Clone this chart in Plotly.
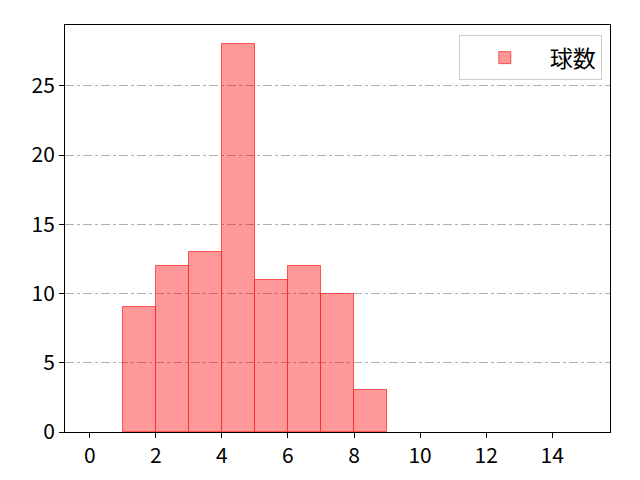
import plotly.graph_objects as go

# histogram data (bin left edges, counts)
bin_left = [1, 2, 3, 4, 5, 6, 7, 8]
counts = [9, 12, 13, 28, 11, 12, 10, 3]
series_name = "球数"

x_ticks = [0, 2, 4, 6, 8, 10, 12, 14]
y_ticks = [0, 5, 10, 15, 20, 25]

FONT = "Noto Sans CJK JP"

fig = go.Figure()

fig.add_trace(go.Bar(
    x=bin_left,
    y=counts,
    width=1,
    offset=0,
    name=series_name,
    marker=dict(color="rgba(255,0,0,0.4)", line=dict(color="rgba(255,40,40,0.75)", width=1)),
    showlegend=True,
))

# axes ##################################################################
fig.update_xaxes(
    range=[-0.75, 15.75], tickvals=x_ticks, showgrid=False, zeroline=False,
    showline=True, linecolor="black", linewidth=1, mirror=True,
    ticks="outside", ticklen=5, tickcolor="black",
)
fig.update_yaxes(
    range=[0, 29.4], tickvals=y_ticks, zeroline=False,
    showgrid=True, gridcolor="#b0b0b0", griddash="dashdot", gridwidth=0.8,
    showline=True, linecolor="black", linewidth=1, mirror=True,
    ticks="outside", ticklen=5, tickcolor="black",
)

# page body adds ~8px offset, margins compensate for it
fig.update_layout(
    width=640, height=480,
    margin=dict(l=57, r=38, t=17, b=56),
    plot_bgcolor="white", paper_bgcolor="white",
    font=dict(family=FONT, size=21, color="black"),
    bargap=0,
    legend=dict(
        x=0.985, y=0.975, xanchor="right", yanchor="top",
        bordercolor="#cccccc", borderwidth=1, bgcolor="rgba(255,255,255,0.8)",
        font=dict(size=23), itemwidth=80,
    ),
)

fig.write_html("out.html")
